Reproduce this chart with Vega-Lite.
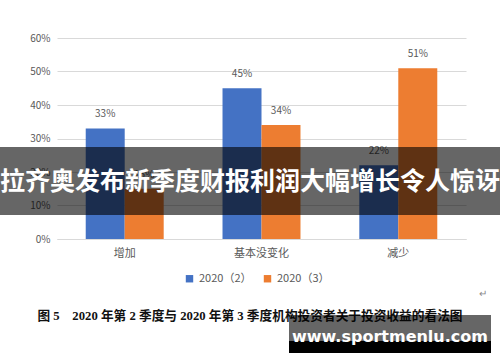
{
  "$schema": "https://vega.github.io/schema/vega-lite/v6.json",
  "width": 409,
  "height": 201,
  "autosize": {"type": "none"},
  "padding": {"left": 57, "top": 38, "right": 34, "bottom": 123},
  "background": "white",
  "config": {
    "view": {"stroke": null},
    "font": "Noto Sans CJK SC"
  },
  "layer": [
    {
      "data": {"values": [
        {"category": "增加", "series": "2020（2）", "value": 0.33},
        {"category": "增加", "series": "2020（3）", "value": 0.15},
        {"category": "基本没变化", "series": "2020（2）", "value": 0.45},
        {"category": "基本没变化", "series": "2020（3）", "value": 0.34},
        {"category": "减少", "series": "2020（2）", "value": 0.22},
        {"category": "减少", "series": "2020（3）", "value": 0.51}
      ]},
      "encoding": {
        "x": {
          "field": "category", "type": "nominal", "sort": ["增加", "基本没变化", "减少"],
          "scale": {"paddingInner": 0.43, "paddingOuter": 0.21},
          "axis": {"title": null, "labelAngle": 0, "ticks": false, "domainColor": "#d9d9d9", "labelColor": "#595959", "labelFontSize": 11, "labelPadding": 8}
        },
        "xOffset": {"field": "series", "type": "nominal", "sort": ["2020（2）", "2020（3）"], "scale": {"paddingInner": 0, "paddingOuter": 0}},
        "y": {
          "field": "value", "type": "quantitative",
          "scale": {"domain": [0, 0.6]},
          "axis": {"title": null, "format": ".0%", "values": [0, 0.1, 0.2, 0.3, 0.4, 0.5, 0.6], "domain": false, "ticks": false, "gridColor": "#d9d9d9", "labelColor": "#595959", "labelFontSize": 10, "labelPadding": 7}
        }
      },
      "layer": [
        {
          "mark": {"type": "bar"},
          "encoding": {
            "color": {
              "field": "series", "type": "nominal",
              "scale": {"domain": ["2020（2）", "2020（3）"], "range": ["#4472C4", "#ED7D31"]},
              "legend": {"title": null, "orient": "none", "direction": "horizontal", "legendX": 127, "legendY": 235, "symbolType": "square", "symbolSize": 55, "symbolStrokeWidth": 0, "labelColor": "#595959", "labelFontSize": 11, "columnPadding": 10, "symbolOffset": 0}
            }
          }
        },
        {
          "mark": {"type": "text", "baseline": "middle", "dy": -14, "fontSize": 10, "color": "#595959"},
          "encoding": {
            "text": {"field": "value", "type": "quantitative", "format": ".0%"}
          }
        }
      ]
    },
    {
      "data": {"values": [{}]},
      "mark": {"type": "rect", "color": "black", "opacity": 0.6},
      "encoding": {
        "x": {"value": -57},
        "x2": {"value": 443},
        "y": {"value": 109},
        "y2": {"value": 177}
      }
    },
    {
      "data": {"values": [{}]},
      "mark": {"type": "text", "text": "拉齐奥发布新季度财报利润大幅增长令人惊讶", "color": "white", "fontSize": 25, "fontWeight": "bold", "align": "center", "baseline": "middle", "font": "Noto Sans CJK SC"},
      "encoding": {"x": {"value": 193}, "y": {"value": 144}}
    },
    {
      "data": {"values": [{}]},
      "mark": {"type": "text", "text": "图 5　2020 年第 2 季度与 2020 年第 3 季度机构投资者关于投资收益的看法图", "color": "#111111", "fontSize": 12.7, "fontWeight": "bold", "align": "center", "baseline": "middle", "font": "Liberation Serif, Noto Sans CJK SC"},
      "encoding": {"x": {"value": 193}, "y": {"value": 278}}
    },
    {
      "data": {"values": [{}]},
      "mark": {"type": "text", "text": "↵", "color": "#888888", "fontSize": 10, "align": "center", "baseline": "middle"},
      "encoding": {"x": {"value": 426}, "y": {"value": 256}}
    },
    {
      "data": {"values": [{}]},
      "mark": {"type": "rect", "color": "black", "opacity": 0.6},
      "encoding": {
        "x": {"value": 232},
        "x2": {"value": 434},
        "y": {"value": 277},
        "y2": {"value": 303}
      }
    },
    {
      "data": {"values": [{}]},
      "mark": {"type": "rect", "color": "black"},
      "encoding": {
        "x": {"value": 232},
        "x2": {"value": 434},
        "y": {"value": 303},
        "y2": {"value": 315}
      }
    },
    {
      "data": {"values": [{}]},
      "mark": {"type": "text", "text": "www.sportmenlu.com", "color": "white", "fontSize": 16, "fontWeight": "bold", "align": "center", "baseline": "middle", "font": "DejaVu Sans"},
      "encoding": {"x": {"value": 333}, "y": {"value": 299}}
    }
  ]
}
